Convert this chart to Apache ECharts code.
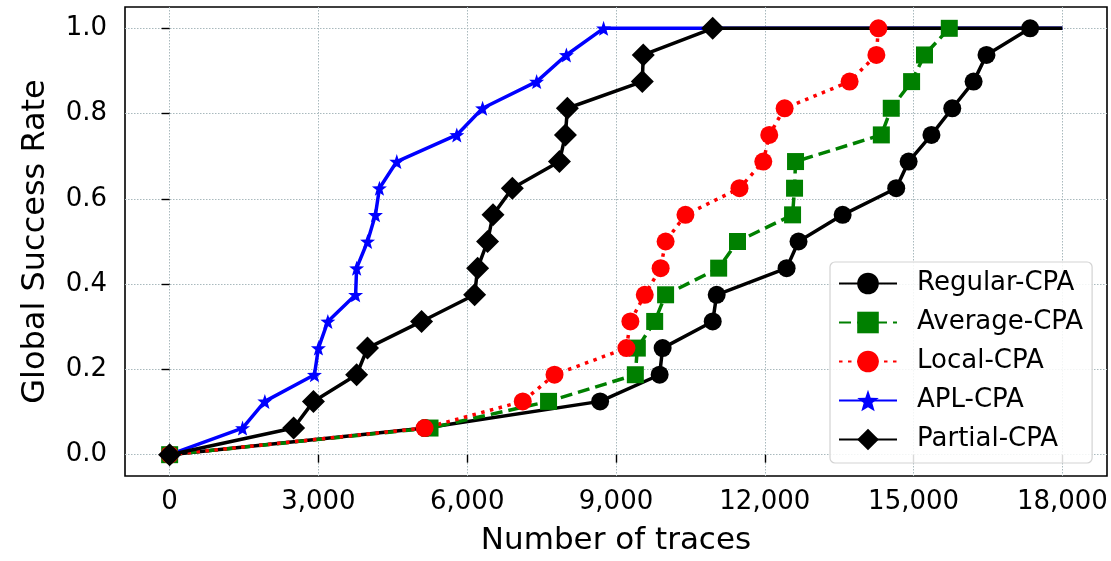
<!DOCTYPE html>
<html><head><meta charset="utf-8">
<script src="https://cdn.jsdelivr.net/npm/echarts@6/dist/echarts.min.js"></script>
<style>html,body{margin:0;padding:0;background:#fff}#c{width:1111px;height:561px}</style>
</head><body><div id="c"></div>
<script>
const levels = [0, 0.0625, 0.125, 0.1875, 0.25, 0.3125, 0.375, 0.4375, 0.5, 0.5625, 0.625, 0.6875, 0.75, 0.8125, 0.875, 0.9375, 1.0];
const regularX = [0, 5150, 8680, 9880, 9940, 10950, 11030, 12440, 12680, 13570, 14650, 14900, 15360, 15780, 16210, 16470, 17350];
const averageX = [0, 5250, 7640, 9390, 9430, 9780, 10000, 11070, 11450, 12560, 12600, 12620, 14350, 14550, 14960, 15220, 15720];
const localX   = [0, 5140, 7120, 7760, 9210, 9290, 9580, 9900, 10000, 10400, 11490, 11970, 12090, 12400, 13710, 14250, 14290];
const aplX     = [0, 1470, 1920, 2920, 3000, 3190, 3750, 3770, 3990, 4150, 4230, 4580, 5790, 6310, 7400, 8000, 8750];
const partialX = [0, 2500, 2900, 3770, 3990, 5080, 6150, 6210, 6410, 6520, 6910, 7860, 7980, 8020, 9530, 9550, 10950];
const tailX = 18000;   // lines continue flat at 1.0 to here
const xTicks = [0, 3000, 6000, 9000, 12000, 15000, 18000];
const yTicks = [0, 0.2, 0.4, 0.6, 0.8, 1.0];
const names = ['Regular-CPA', 'Average-CPA', 'Local-CPA', 'APL-CPA', 'Partial-CPA'];

const FONT = 'DejaVu Sans';
const STAR = 'path://M0,-10L2.35,-3.24L9.51,-3.09L3.8,1.24L5.88,8.09L0,4.6L-5.88,8.09L-3.8,1.24L-9.51,-3.09L-2.35,-3.24Z';

function pts(xs, tail) {
  const d = xs.map((x, i) => [x, levels[i]]);
  if (tail) d.push({ value: [tailX, 1.0], symbol: 'none' });
  return d;
}

const chart = echarts.init(document.getElementById('c'), null, { renderer: 'canvas' });
const gridLine = { show: true, lineStyle: { color: '#a9b9bd', width: 1, type: [1.5, 1.5] } };
const LW = 3.5;
chart.setOption({
  animation: false,
  backgroundColor: '#fff',
  grid: { left: 125, right: 4, top: 7, bottom: 83, show: true, borderColor: '#000', borderWidth: 1.6, backgroundColor: 'transparent' },
  xAxis: {
    type: 'value', min: -900, max: 18900,
    name: 'Number of traces', nameLocation: 'middle', nameGap: 49,
    nameTextStyle: { fontFamily: FONT, fontSize: 31, color: '#000' },
    axisLine: { show: false },
    axisTick: { show: true, customValues: xTicks, length: 8, lineStyle: { color: '#000', width: 1.4 } },
    axisLabel: { customValues: xTicks, fontFamily: FONT, fontSize: 26, color: '#000', margin: 13,
      formatter: v => v.toLocaleString('en-US') },
    splitLine: gridLine
  },
  yAxis: {
    type: 'value', min: -0.05, max: 1.05,
    name: 'Global Success Rate', nameLocation: 'middle', nameGap: 73,
    nameTextStyle: { fontFamily: FONT, fontSize: 32, color: '#000' },
    axisLine: { show: false },
    axisTick: { show: true, customValues: yTicks, length: 8, lineStyle: { color: '#000', width: 1.4 } },
    axisLabel: { customValues: yTicks, fontFamily: FONT, fontSize: 26, color: '#000', margin: 18,
      formatter: v => v.toFixed(1) },
    splitLine: gridLine
  },
  legend: {
    orient: 'vertical', left: 830, top: 262,
    data: names,
    itemWidth: 58, itemHeight: 27, itemGap: 12,
    textStyle: { fontFamily: FONT, fontSize: 26, lineHeight: 27, color: '#000', padding: [0, 0, 0, 15] },
    borderColor: '#d3d3d3', borderWidth: 1.2, borderRadius: 5,
    backgroundColor: 'rgba(255,255,255,0.85)', padding: [8, 9, 10, 8]
  },
  series: [
    { name: names[0], type: 'line', data: pts(regularX, false), symbol: 'circle', symbolSize: 18,
      itemStyle: { color: '#000' }, lineStyle: { color: '#000', width: LW } },
    { name: names[1], type: 'line', data: pts(averageX, false), symbol: 'rect', symbolSize: 17,
      itemStyle: { color: '#008000' }, lineStyle: { color: '#008000', width: LW, type: [12, 6] } },
    { name: names[2], type: 'line', data: pts(localX, false), symbol: 'circle', symbolSize: 18,
      itemStyle: { color: '#ff0000' }, lineStyle: { color: '#ff0000', width: LW, type: [3.5, 5.5] } },
    { name: names[3], type: 'line', data: pts(aplX, true), symbol: STAR, symbolSize: 15,
      itemStyle: { color: '#0000ff' }, lineStyle: { color: '#0000ff', width: LW } },
    { name: names[4], type: 'line', data: pts(partialX, true), symbol: 'diamond', symbolSize: 23,
      itemStyle: { color: '#000' }, lineStyle: { color: '#000', width: LW } }
  ]
});
</script></body></html>
